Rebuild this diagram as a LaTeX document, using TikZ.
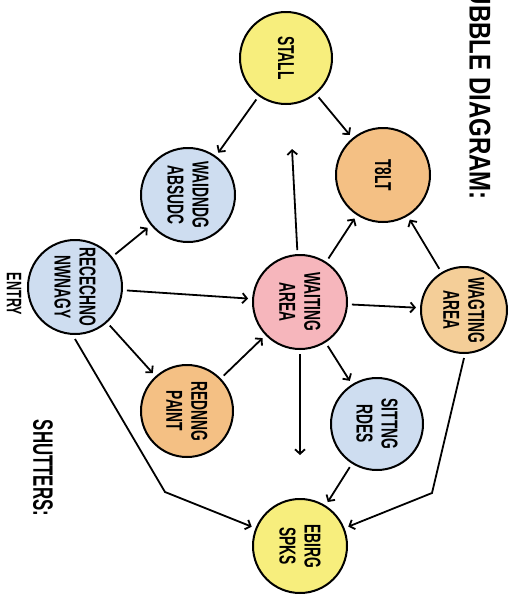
\documentclass[tikz,border=0pt]{standalone}
\usepackage{fontspec}
\newfontfamily\lab{Liberation Sans}[FakeStretch=0.6]
\newfontfamily\ttl{Liberation Sans}[FakeStretch=0.8]
\usetikzlibrary{arrows.meta}
\definecolor{cY}{RGB}{247,238,125}
\definecolor{cO}{RGB}{244,192,132}
\definecolor{cB}{RGB}{206,221,240}
\definecolor{cP}{RGB}{246,182,188}
\definecolor{cL}{RGB}{244,206,152}
\colorlet{cYw}{cY!35!white}
\colorlet{cOw}{cO!35!white}
\colorlet{cBw}{cB!35!white}
\colorlet{cPw}{cP!35!white}
\colorlet{cLw}{cL!35!white}
\pgfdeclareradialshading{shY}{\pgfpoint{0bp}{0bp}}{color(0bp)=(cY); color(28bp)=(cY); color(50bp)=(cYw)}
\pgfdeclareradialshading{shO}{\pgfpoint{0bp}{0bp}}{color(0bp)=(cO); color(28bp)=(cO); color(50bp)=(cOw)}
\pgfdeclareradialshading{shB}{\pgfpoint{0bp}{0bp}}{color(0bp)=(cB); color(28bp)=(cB); color(50bp)=(cBw)}
\pgfdeclareradialshading{shP}{\pgfpoint{0bp}{0bp}}{color(0bp)=(cP); color(28bp)=(cP); color(50bp)=(cPw)}
\pgfdeclareradialshading{shL}{\pgfpoint{0bp}{0bp}}{color(0bp)=(cL); color(28bp)=(cL); color(50bp)=(cLw)}
\tikzset{
  bub/.style={circle, draw=black, line width=2pt, minimum size=#1, inner sep=0pt,
    outer sep=5pt, align=center, rotate=-90,
    font=\lab\bfseries\fontsize{23}{25}\selectfont},
  arr/.style={line width=1.8pt, -{Straight Barb[length=4.5pt,width=10pt]}},
  lbl/.style={rotate=-90, inner sep=0pt, font=\lab\bfseries\fontsize{#1}{#1}\selectfont}
}
\begin{document}
\begin{tikzpicture}[x=1pt,y=-1pt]
\fill[white] (0,0) rectangle (514,595);
\useasboundingbox (0,0) rectangle (514,595);
% bubbles
\node[bub=92pt, shade, shading=shY] (stall) at (286,58) {STALL};
\node[bub=94pt, shade, shading=shO] (toilet) at (383,175) {T8LT};
\node[bub=94pt, shade, shading=shB] (wtop) at (188,195) {WAIDNDG\\ABSUDC};
\node[bub=94pt, shade, shading=shB] (recep) at (75,287) {RECECHNO\\NWNAGY};
\node[bub=94pt, shade, shading=shP] (wait) at (300,302) {WAITING\\AREA};
\node[bub=86pt, shade, shading=shL] (wright) at (464,310) {WAGTING\\AREA};
\node[bub=92pt, shade, shading=shO] (paint) at (187,411) {REDNNG\\PAINT};
\node[bub=92pt, shade, shading=shB] (sit) at (377,424) {SITTNG\\RDES};
\node[bub=94pt, shade, shading=shY] (spks) at (300,546) {EBIRG\\SPKS};
% texts
\node[lbl=21] (entry) at (14,294) {ENTRY};
\node[lbl=28] (shut) at (43,468) {SHUTTERS:};
\node[rotate=-90, inner sep=0pt, anchor=east, font=\ttl\bfseries\fontsize{30}{30}\selectfont] (title) at (480,200) {BUBBLE DIAGRAM:};
% free ends and bends
\coordinate (up) at (292,149);
\coordinate (down) at (300,455);
\coordinate (b1) at (165,492);
\coordinate (b2) at (432,493);
% connectors
\draw[arr] (stall) -- (wtop);
\draw[arr] (stall) -- (toilet);
\draw[arr] (wait) -- (up);
\draw[arr] (wait) -- (toilet);
\draw[arr] (wright) -- (toilet);
\draw[arr] (recep) -- (wtop);
\draw[arr] (recep) -- (wait);
\draw[arr] (recep) -- (paint);
\draw[arr] (recep.east) -- (b1) -- (spks);
\draw[arr] (paint) -- (wait);
\draw[arr] (wait) -- (wright);
\draw[arr] (wait) -- (sit);
\draw[arr] (wait) -- (down);
\draw[arr] (sit) -- (spks);
\draw[arr] (wright.east) -- (b2) -- (spks);
\end{tikzpicture}
\end{document}
